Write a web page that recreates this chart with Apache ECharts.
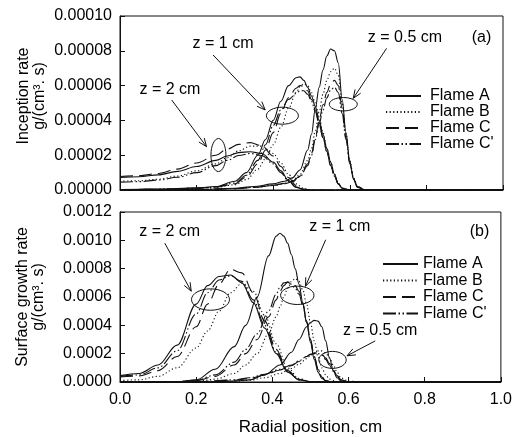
<!DOCTYPE html>
<html><head><meta charset="utf-8">
<script src="https://cdn.jsdelivr.net/npm/echarts@6/dist/echarts.min.js"></script>
<style>html,body{margin:0;padding:0;background:#fff}#c{width:515px;height:437px}</style>
</head><body><div id="c"></div>
<script>
// ---------- DATA ----------
const flames = ['Flame A', 'Flame B', 'Flame C', "Flame C'"];
const xTicks = [0, 0.2, 0.4, 0.6, 0.8, 1.0];

// Panel (a): inception rate, values in units of 1e-5 g/(cm3 s)
const xTopZ05 = [0, 0.2, 0.3, 0.35, 0.4, 0.43, 0.45, 0.47, 0.49, 0.5, 0.51, 0.52, 0.53, 0.54, 0.55, 0.56, 0.57, 0.58, 0.59, 0.6, 0.61, 0.62, 0.64, 0.7, 1.0];
const topZ05A  = [0, 0.02, 0.1, 0.2, 0.35, 0.5, 0.7, 1.15, 2.3, 3.2, 4.7, 5.9, 6.9, 7.7, 8.1, 8.0, 7.3, 5.2, 3.3, 1.6, 0.6, 0.15, 0, 0, 0];
const topZ05B  = [0, 0.02, 0.08, 0.15, 0.28, 0.4, 0.55, 0.9, 1.7, 2.4, 3.4, 4.5, 5.5, 6.3, 6.8, 7.0, 6.6, 5.0, 3.2, 1.7, 0.7, 0.2, 0, 0, 0];
const topZ05C  = [0, 0.02, 0.08, 0.15, 0.27, 0.38, 0.5, 0.8, 1.5, 2.1, 3.0, 4.0, 4.9, 5.6, 6.1, 6.3, 6.0, 4.7, 3.0, 1.6, 0.65, 0.2, 0, 0, 0];
const topZ05Cp = [0, 0.02, 0.08, 0.15, 0.26, 0.36, 0.48, 0.75, 1.4, 2.0, 2.9, 3.8, 4.6, 5.3, 5.75, 5.9, 5.6, 4.4, 2.9, 1.5, 0.6, 0.2, 0, 0, 0];

const xTopZ1 = [0, 0.1, 0.2, 0.25, 0.3, 0.33, 0.36, 0.38, 0.4, 0.42, 0.44, 0.46, 0.47, 0.48, 0.49, 0.5, 0.51, 0.52, 0.53, 0.54, 0.55, 0.56, 0.57, 0.58, 0.6, 0.7, 1.0];
const topZ1A  = [0.02, 0.05, 0.12, 0.2, 0.5, 1.0, 2.0, 2.9, 4.0, 5.1, 6.0, 6.45, 6.5, 6.3, 5.9, 5.4, 4.8, 4.0, 3.2, 2.4, 1.6, 0.9, 0.35, 0.1, 0, 0, 0];
const topZ1B  = [0.02, 0.04, 0.1, 0.15, 0.3, 0.6, 1.2, 1.8, 2.6, 3.6, 4.7, 5.6, 5.95, 6.1, 6.0, 5.6, 5.0, 4.2, 3.3, 2.4, 1.6, 0.9, 0.4, 0.12, 0, 0, 0];
const topZ1C  = [0.02, 0.04, 0.1, 0.17, 0.35, 0.75, 1.5, 2.3, 3.3, 4.4, 5.3, 5.85, 6.0, 5.95, 5.7, 5.2, 4.6, 3.8, 3.0, 2.2, 1.4, 0.8, 0.35, 0.1, 0, 0, 0];
const topZ1Cp = [0.02, 0.04, 0.1, 0.18, 0.4, 0.85, 1.7, 2.6, 3.7, 4.6, 5.2, 5.55, 5.7, 5.7, 5.5, 5.1, 4.5, 3.8, 3.0, 2.2, 1.4, 0.8, 0.35, 0.1, 0, 0, 0];

const xTopZ2 = [0, 0.05, 0.1, 0.15, 0.2, 0.25, 0.28, 0.31, 0.34, 0.37, 0.4, 0.42, 0.44, 0.46, 0.48, 0.5, 0.55, 1.0];
const topZ2A  = [0.72, 0.76, 0.87, 1.07, 1.35, 1.7, 1.95, 2.15, 2.2, 2.1, 1.6, 1.1, 0.55, 0.17, 0.03, 0, 0, 0];
const topZ2B  = [0.5, 0.53, 0.62, 0.8, 1.1, 1.5, 1.85, 2.25, 2.52, 2.52, 2.1, 1.55, 0.9, 0.35, 0.08, 0, 0, 0];
const topZ2C  = [0.78, 0.82, 0.95, 1.2, 1.55, 2.0, 2.35, 2.62, 2.72, 2.55, 1.95, 1.35, 0.72, 0.25, 0.05, 0, 0, 0];
const topZ2Cp = [0.45, 0.48, 0.57, 0.73, 1.0, 1.4, 1.7, 1.98, 2.1, 1.98, 1.5, 1.0, 0.5, 0.15, 0.03, 0, 0, 0];
const topYTicks = [0, 2, 4, 6, 8, 10]; // x 1e-5

// Panel (b): surface growth rate, values in units of 1e-4 g/(cm3 s)
const xBotZ2 = [0, 0.05, 0.1, 0.15, 0.2, 0.23, 0.26, 0.29, 0.32, 0.35, 0.38, 0.41, 0.44, 0.47, 0.5, 0.55, 1.0];
const botZ2A  = [0.45, 0.6, 1.2, 2.6, 5.5, 6.8, 7.45, 7.55, 7.0, 5.6, 3.8, 2.0, 0.7, 0.15, 0.02, 0, 0];
const botZ2B  = [0.1, 0.15, 0.4, 1.0, 2.4, 3.6, 5.0, 6.3, 6.95, 6.4, 4.7, 2.7, 1.0, 0.25, 0.03, 0, 0];
const botZ2C  = [0.35, 0.42, 0.8, 1.8, 3.9, 5.5, 6.9, 7.95, 7.7, 6.3, 4.3, 2.3, 0.8, 0.18, 0.02, 0, 0];
const botZ2Cp = [0.4, 0.5, 1.0, 2.2, 4.8, 6.3, 7.2, 7.5, 7.1, 5.8, 4.0, 2.1, 0.75, 0.15, 0.02, 0, 0];

const xBotZ1 = [0, 0.15, 0.2, 0.25, 0.3, 0.33, 0.36, 0.39, 0.41, 0.42, 0.43, 0.44, 0.45, 0.46, 0.47, 0.48, 0.49, 0.5, 0.51, 0.52, 0.53, 0.54, 0.55, 0.57, 0.6, 1.0];
const botZ1A  = [0, 0.02, 0.15, 0.9, 2.5, 4.0, 6.0, 8.9, 10.3, 10.5, 10.3, 9.8, 9.0, 8.0, 6.9, 5.6, 4.2, 2.8, 1.6, 0.7, 0.25, 0.07, 0.02, 0, 0, 0];
const botZ1B  = [0, 0.01, 0.05, 0.2, 0.6, 1.2, 2.0, 3.4, 4.6, 5.3, 6.0, 6.6, 7.1, 7.3, 7.1, 6.5, 5.5, 4.2, 2.9, 1.8, 1.0, 0.5, 0.2, 0.02, 0, 0];
const botZ1C  = [0, 0.02, 0.1, 0.4, 1.2, 2.0, 3.0, 4.6, 5.8, 6.4, 6.8, 7.05, 7.0, 6.8, 6.4, 5.5, 4.3, 3.0, 1.8, 0.9, 0.35, 0.1, 0.03, 0, 0, 0];
const botZ1Cp = [0, 0.02, 0.12, 0.5, 1.4, 2.3, 3.4, 5.0, 6.2, 6.7, 7.0, 7.05, 6.9, 6.6, 6.2, 5.4, 4.2, 3.0, 1.8, 0.9, 0.35, 0.1, 0.03, 0, 0, 0];

const xBotZ05 = [0, 0.2, 0.3, 0.34, 0.38, 0.42, 0.45, 0.47, 0.49, 0.5, 0.51, 0.52, 0.53, 0.54, 0.55, 0.56, 0.57, 0.58, 0.6, 0.65, 1.0];
const botZ05A  = [0, 0.02, 0.06, 0.15, 0.5, 1.2, 2.1, 3.0, 3.9, 4.2, 4.35, 4.3, 3.9, 2.9, 1.7, 0.8, 0.3, 0.08, 0.01, 0, 0];
const botZ05B  = [0, 0.01, 0.05, 0.12, 0.3, 0.6, 0.95, 1.25, 1.65, 1.85, 2.05, 2.2, 2.2, 2.05, 1.7, 1.2, 0.7, 0.3, 0.05, 0, 0];
const botZ05C  = [0, 0.02, 0.12, 0.25, 0.5, 0.85, 1.15, 1.45, 1.8, 1.95, 2.05, 2.05, 1.95, 1.7, 1.3, 0.85, 0.45, 0.18, 0.03, 0, 0];
const botZ05Cp = [0, 0.03, 0.15, 0.3, 0.55, 0.9, 1.2, 1.5, 1.8, 1.95, 2.0, 2.0, 1.9, 1.6, 1.2, 0.75, 0.4, 0.15, 0.02, 0, 0];
const botYTicks = [0, 2, 4, 6, 8, 10, 12]; // x 1e-4

// ---------- CHART ----------
const FONT = 'Liberation Sans, Arial, sans-serif';
const INK = '#111';
const dash = {
  'Flame A': 'solid',
  'Flame B': [1.2, 2.4],
  'Flame C': [13, 6],
  "Flame C'": [13, 2.5, 1.5, 2.5, 1.5, 2.5]
};
const groups = [
  {g: 0, x: xTopZ05, ys: [topZ05A, topZ05B, topZ05C, topZ05Cp]},
  {g: 0, x: xTopZ1,  ys: [topZ1A,  topZ1B,  topZ1C,  topZ1Cp]},
  {g: 0, x: xTopZ2,  ys: [topZ2A,  topZ2B,  topZ2C,  topZ2Cp]},
  {g: 1, x: xBotZ2,  ys: [botZ2A,  botZ2B,  botZ2C,  botZ2Cp]},
  {g: 1, x: xBotZ1,  ys: [botZ1A,  botZ1B,  botZ1C,  botZ1Cp]},
  {g: 1, x: xBotZ05, ys: [botZ05A, botZ05B, botZ05C, botZ05Cp]}
];
const series = [];
groups.forEach(gr => {
  gr.ys.forEach((ys, k) => {
    series.push({
      type: 'line', name: flames[k], xAxisIndex: gr.g, yAxisIndex: gr.g,
      data: gr.x.map((x, i) => [x, ys[i]]),
      smooth: 0.35, smoothMonotone: 'x', symbol: 'none', silent: true,
      lineStyle: {color: INK, width: 1.1, type: dash[flames[k]]},
      itemStyle: {color: INK},
      emphasis: {disabled: true}
    });
  });
});

const axisCommon = {
  type: 'value',
  axisLine: {show: true, lineStyle: {color: INK, width: 1}},
  axisTick: {show: true, inside: true, length: 5, lineStyle: {color: INK}},
  splitLine: {show: false}
};
const labelStyle = {color: '#000', fontSize: 16, fontFamily: FONT};
const legendHidden = {opacity: 0, color: 'transparent', borderWidth: 0};

const chart = echarts.init(document.getElementById('c'));
chart.setOption({
  animation: false,
  backgroundColor: '#fff',
  grid: [
    {left: 120, top: 16, width: 383, height: 174, show: true, borderColor: INK, borderWidth: 1},
    {left: 120, top: 212, width: 383, height: 171, show: true, borderColor: INK, borderWidth: 1}
  ],
  xAxis: [
    Object.assign({}, axisCommon, {gridIndex: 0, min: xTicks[0], max: xTicks[xTicks.length - 1], interval: 0.2,
      axisLabel: {show: false}}),
    Object.assign({}, axisCommon, {gridIndex: 1, min: xTicks[0], max: xTicks[xTicks.length - 1], interval: 0.2,
      axisLabel: Object.assign({margin: 10, formatter: v => v.toFixed(1)}, labelStyle),
      name: 'Radial position, cm', nameLocation: 'middle', nameGap: 37,
      nameTextStyle: {color: '#000', fontSize: 17, fontFamily: FONT}})
  ],
  yAxis: [
    Object.assign({}, axisCommon, {gridIndex: 0, min: topYTicks[0], max: topYTicks[topYTicks.length - 1], interval: 2,
      axisLabel: Object.assign({margin: 8, formatter: v => (v * 1e-5).toFixed(5)}, labelStyle)}),
    Object.assign({}, axisCommon, {gridIndex: 1, min: botYTicks[0], max: botYTicks[botYTicks.length - 1], interval: 2,
      axisLabel: Object.assign({margin: 8, formatter: v => (v * 1e-4).toFixed(4)}, labelStyle)})
  ],
  legend: [
    {data: flames, orient: 'vertical', left: 380, top: 83, itemWidth: 35, itemHeight: 14, itemGap: 0,
      selectedMode: false, itemStyle: legendHidden,
      textStyle: {color: '#000', fontSize: 16, fontFamily: FONT, lineHeight: 14, padding: [0, 0, 0, 4]}},
    {data: flames, orient: 'vertical', left: 377, top: 251, itemWidth: 35, itemHeight: 15, itemGap: 0.5,
      selectedMode: false, itemStyle: legendHidden,
      textStyle: {color: '#000', fontSize: 16, fontFamily: FONT, lineHeight: 15, padding: [0, 0, 0, 0]}}
  ],
  series: series
});

// ---------- ANNOTATIONS (placed in data coordinates) ----------
const notes = [
  // [gridIndex, text, x, y]
  [0, 'z = 2 cm', 0.1305, 5.75], [0, 'z = 1 cm', 0.269, 8.43], [0, 'z = 0.5 cm', 0.744, 8.75], [0, '(a)', 0.944, 8.75],
  [1, 'z = 2 cm', 0.1305, 10.62], [1, 'z = 1 cm', 0.577, 10.97], [1, 'z = 0.5 cm', 0.683, 3.60], [1, '(b)', 0.944, 10.62]
];
const arrows = [
  // [gridIndex, x0, y0, x1(tip), y1(tip)]
  [0, 0.135, 5.17, 0.226, 2.49], [0, 0.243, 7.76, 0.379, 4.60], [0, 0.696, 8.14, 0.609, 5.27],
  [1, 0.1175, 9.80, 0.187, 6.41], [1, 0.54, 10.04, 0.487, 6.76], [1, 0.670, 2.90, 0.596, 1.85]
];
const rings = [
  // [gridIndex, cx, cy, rx(px), ry(px)]
  [0, 0.257, 2.01, 7.5, 16.5], [0, 0.424, 4.27, 16, 8.5], [0, 0.583, 4.93, 14, 6.7],
  [1, 0.2376, 5.82, 19, 10.7], [1, 0.4655, 6.12, 16.7, 9.2], [1, 0.558, 1.56, 13.7, 8.5]
];
const P = (g, x, y) => chart.convertToPixel({gridIndex: g}, [x, y]);
const graphics = [];
notes.forEach(n => {
  const p = P(n[0], n[2], n[3]);
  graphics.push({type: 'text', x: p[0], y: p[1], silent: true,
    style: {text: n[1], fill: '#000', font: '16px ' + FONT, align: 'center', verticalAlign: 'middle'}});
});
arrows.forEach(a => {
  const p0 = P(a[0], a[1], a[2]), p1 = P(a[0], a[3], a[4]);
  const ang = Math.atan2(p1[1] - p0[1], p1[0] - p0[0]);
  const L = 9, w = 0.38;
  const h1 = [p1[0] - L * Math.cos(ang - w), p1[1] - L * Math.sin(ang - w)];
  const h2 = [p1[0] - L * Math.cos(ang + w), p1[1] - L * Math.sin(ang + w)];
  graphics.push({type: 'line', silent: true, shape: {x1: p0[0], y1: p0[1], x2: p1[0], y2: p1[1]},
    style: {stroke: INK, lineWidth: 1}});
  graphics.push({type: 'polyline', silent: true, shape: {points: [h1, p1, h2]},
    style: {stroke: INK, lineWidth: 1, fill: null}});
});
rings.forEach(r => {
  const c = P(r[0], r[1], r[2]);
  graphics.push({type: 'ellipse', silent: true, shape: {cx: c[0], cy: c[1], rx: r[3], ry: r[4]},
    style: {stroke: INK, lineWidth: 1, fill: null}});
});
graphics.push({type: 'text', x: 32, y: 96, rotation: Math.PI / 2, silent: true,
  style: {text: 'Inception rate\ng/(cm³. s)', fill: '#000', font: '16px ' + FONT, lineHeight: 16, align: 'center', verticalAlign: 'middle'}});
graphics.push({type: 'text', x: 31, y: 297, rotation: Math.PI / 2, silent: true,
  style: {text: 'Surface growth rate\ng/(cm³. s)', fill: '#000', font: '16px ' + FONT, lineHeight: 16, align: 'center', verticalAlign: 'middle'}});
chart.setOption({graphic: graphics});
</script>
</body></html>
